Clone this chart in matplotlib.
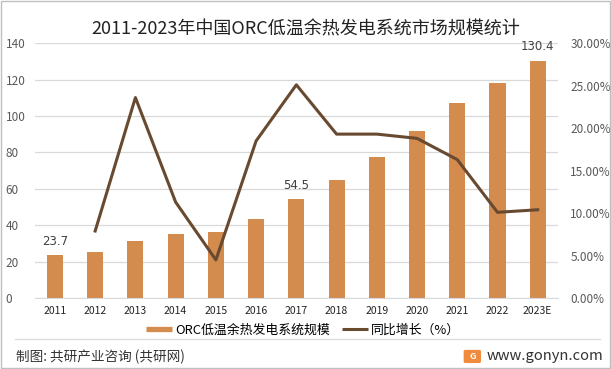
import matplotlib
matplotlib.use("Agg")
import matplotlib.pyplot as plt
from matplotlib.patches import Rectangle, FancyBboxPatch
from matplotlib.lines import Line2D
import numpy as np

plt.rcParams['font.family'] = ['Noto Sans CJK SC', 'DejaVu Sans']

years = ['2011', '2012', '2013', '2014', '2015', '2016', '2017',
         '2018', '2019', '2020', '2021', '2022', '2023E']
scale = [23.7, 25.3, 31.3, 35.2, 36.3, 43.4, 54.5, 64.8, 77.5, 91.8, 107.1, 118.1, 130.4]
growth = [None, 7.9, 23.6, 11.3, 4.5, 18.5, 25.1, 19.3, 19.3, 18.8, 16.3, 10.1, 10.4]
labelled = {0: '23.7', 6: '54.5', 12: '130.4'}

bar_color = '#D38B4E'
line_color = '#684A31'
text_color = '#404040'

fig = plt.figure(figsize=(6.11, 3.69), dpi=100)
ax = fig.add_axes([0.057, 0.192, 0.856, 0.691])
ax2 = ax.twinx()

x = np.arange(len(years))
ax.bar(x, scale, width=0.4, color=bar_color, zorder=2)
for i, t in labelled.items():
    ax.text(x[i], scale[i] + 4, t, ha='center', va='bottom', fontsize=8.5,
            color=text_color, family=['DejaVu Sans'])

gx = [i for i, g in enumerate(growth) if g is not None]
gy = [g for g in growth if g is not None]
ax2.plot(gx, gy, color=line_color, lw=2.2, zorder=3)

ax.set_xlim(-0.5, len(years) - 0.5)
ax.set_ylim(0, 140)
ax.set_yticks(range(0, 141, 20))
ax2.set_ylim(0, 30)
ax2.set_yticks(range(0, 31, 5))
ax2.set_yticklabels(['%.2f%%' % v for v in range(0, 31, 5)])

ax.set_xticks(x)
ax.set_xticklabels(years)
ax.grid(axis='y', color='#D9D9D9', lw=0.9, zorder=0)
ax.set_axisbelow(True)

for a in (ax, ax2):
    for s in a.spines.values():
        s.set_visible(False)
ax.spines['bottom'].set_visible(True)
ax.spines['bottom'].set_color('#D9D9D9')

ax.tick_params(axis='x', length=0, pad=6, labelsize=7.5, labelcolor='#222222')
ax.tick_params(axis='y', length=0, pad=21, labelsize=8.5, labelcolor='#595959')
for lbl in ax.get_yticklabels():
    lbl.set_horizontalalignment('left')
ax2.tick_params(axis='y', length=0, pad=9, labelsize=8.5, labelcolor='#595959')

fig.text(0.5, 0.921, '2011-2023年中国ORC低温余热发电系统市场规模统计',
         ha='center', va='center', fontsize=13, color='#222222')

handles = [Line2D([0], [0], color=bar_color, lw=3.8, solid_capstyle='butt'),
           Line2D([0], [0], color=line_color, lw=2.2, solid_capstyle='butt')]
fig.legend(handles, ['ORC低温余热发电系统规模', '同比增长（%）'],
           loc='center', bbox_to_anchor=(0.496, 0.106), ncol=2, frameon=False,
           fontsize=9.3, handlelength=2.0, handletextpad=0.25, columnspacing=0.9)

# separator above the footer
fig.add_artist(Line2D([0.025, 0.982], [0.081, 0.081], transform=fig.transFigure,
                      color='#D9D9D9', lw=0.9))

fig.text(0.026, 0.033, '制图: 共研产业咨询 (共研网)', ha='left', va='center',
         fontsize=9.8, color='#333333')
fig.patches.append(FancyBboxPatch((0.762, 0.02), 0.022, 0.028,
                                  boxstyle='round,pad=0.002', transform=fig.transFigure,
                                  color='#F08A3C', zorder=5))
fig.text(0.773, 0.034, 'G', ha='center', va='center', fontsize=6.5,
         color='white', weight='bold', zorder=6)
fig.text(0.987, 0.035, 'www.gonyn.com', ha='right', va='center',
         fontsize=10.6, color='#333333')

fig.patches.append(Rectangle((0.002, 0.003), 0.996, 0.994, transform=fig.transFigure,
                             fill=False, edgecolor='#BFBFBF', lw=1))

fig.savefig('out.png', dpi=100)
